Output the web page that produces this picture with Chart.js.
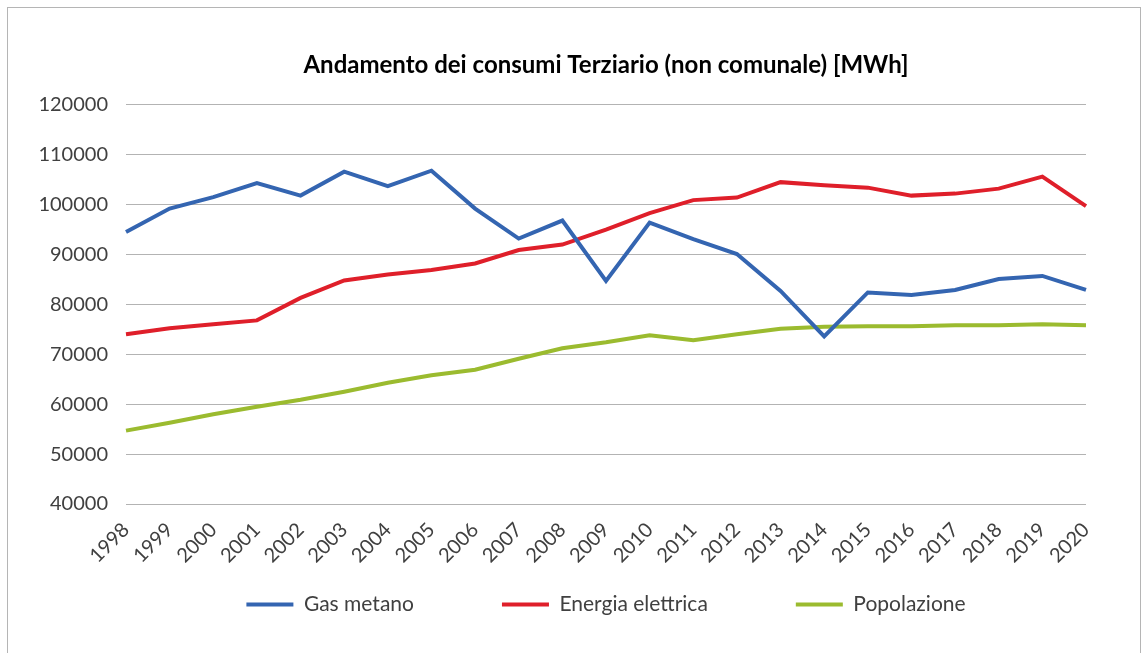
<!DOCTYPE html>
<html>
<head>
<meta charset="utf-8">
<script src="https://cdn.jsdelivr.net/npm/chart.js@4/dist/chart.umd.min.js"></script>
<style>
  html, body { margin: 0; padding: 0; width: 1141px; height: 653px; overflow: hidden; background: #fff; }
  #wrap { position: absolute; left: 0; top: 0; width: 1141px; height: 653px; overflow: hidden; }
  #frame { position: absolute; left: 7px; top: 7px; width: 1132px; height: 700px; border: 1px solid #b5b5b5; pointer-events: none; }
</style>
</head>
<body>
<div id="wrap"><canvas id="chart" width="1141" height="700"></canvas></div>
<div id="frame"></div>
<script>
  // Dati
  const anni = ["1998", "1999", "2000", "2001", "2002", "2003", "2004", "2005", "2006", "2007", "2008",
    "2009", "2010", "2011", "2012", "2013", "2014", "2015", "2016", "2017", "2018", "2019", "2020"];
  const gasMetano = [94500, 99200, 101500, 104300, 101800, 106600, 103700, 106800, 99200, 93200, 96800,
    84700, 96400, 93100, 90100, 82700, 73600, 82400, 81900, 82900, 85100, 85700, 82900];
  const energiaElettrica = [74000, 75200, 76000, 76800, 81300, 84800, 86000, 86900, 88200, 90900, 92000,
    95000, 98300, 100900, 101400, 104500, 103900, 103400, 101800, 102200, 103200, 105600, 99700];
  const popolazione = [54700, 56300, 58000, 59500, 60900, 62500, 64300, 65800, 66900, 69100, 71200,
    72400, 73800, 72800, 74000, 75100, 75500, 75600, 75600, 75800, 75800, 76000, 75800];
  const yTicks = { min: 40000, max: 120000, step: 10000 };

  const font = "Lato";
  const grigio = "#404040";

  function serie(label, data, colore) {
    return {
      label, data,
      borderColor: colore,
      backgroundColor: colore,
      borderWidth: 4,
      pointRadius: 0,
      tension: 0
    };
  }

  // la legenda ha molto spazio tra le voci: la riporto sotto le etichette dell'asse x
  const spostaLegenda = {
    id: "spostaLegenda",
    afterLayout(chart) {
      const lg = chart.legend;
      const dy = lg.top - 506;
      lg.top -= dy;
      lg.bottom -= dy;
    }
  };

  new Chart(document.getElementById("chart"), {
    type: "line",
    data: {
      labels: anni,
      datasets: [
        serie("Gas metano", gasMetano, "#3465b1"),
        serie("Energia elettrica", energiaElettrica, "#df1f2a"),
        serie("Popolazione", popolazione, "#9bbb2f")
      ]
    },
    plugins: [spostaLegenda],
    options: {
      responsive: false,
      animation: false,
      layout: { padding: { left: 0, right: 55, top: 41, bottom: 17 } },
      plugins: {
        title: {
          display: true,
          fullSize: false,
          text: "Andamento dei consumi Terziario (non comunale) [MWh]",
          color: "#000",
          font: { family: font, size: 24, weight: "bold" },
          padding: { top: 10, bottom: 25 }
        },
        legend: {
          position: "bottom",
          fullSize: false,
          maxHeight: 120,
          labels: {
            usePointStyle: true,
            pointStyle: "line",
            pointStyleWidth: 47,
            padding: 88,
            color: grigio,
            font: { family: font, size: 21 }
          }
        },
        tooltip: { enabled: false }
      },
      scales: {
        x: {
          grid: { display: false },
          border: { display: false },
          ticks: {
            autoSkip: false,
            minRotation: 45,
            maxRotation: 45,
            padding: 6,
            color: grigio,
            font: { family: font, size: 20 }
          },
          afterFit: s => { s.height = 60; }
        },
        y: {
          min: yTicks.min,
          max: yTicks.max,
          grid: { color: "#b3b3b3", lineWidth: 1, drawTicks: false },
          border: { display: false },
          ticks: {
            stepSize: yTicks.step,
            padding: 18,
            color: grigio,
            font: { family: font, size: 20 },
            callback: v => String(v)
          },
          afterFit: s => { s.width = 126; }
        }
      }
    }
  });
</script>
</body>
</html>
